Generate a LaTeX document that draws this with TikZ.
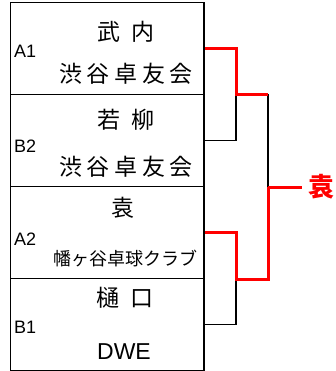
\documentclass[tikz,border=0pt]{standalone}
\usepackage{fontspec}
\setmainfont{Liberation Sans}
\newfontfamily\jp{Noto Sans CJK JP}
\newfontfamily\jpname[LetterSpace=45]{Noto Sans CJK JP}
\newfontfamily\jpclub[LetterSpace=20]{Noto Sans CJK JP}
\tikzset{
    entry/.style={draw, line width=1.6pt, minimum width=193.5pt, minimum height=92pt, inner sep=0pt},
    player/.style={inner sep=0pt, font=\fontsize{23}{23}\jpname},
    club/.style={inner sep=0pt, font=\fontsize{23}{23}\jpclub},
    seed/.style={anchor=west, inner sep=0pt, font=\fontsize{18}{18}\selectfont},
    lost/.style={line width=1.8pt},
    won/.style={red, line width=3pt},
}

\begin{document}
\begin{tikzpicture}[x=1pt,y=-1pt]
    \useasboundingbox (0,0) rectangle (336,371);
    % entries
    \node[entry] (A1) at (107.25,48.5) {};
    \node[entry] (B2) at (107.25,140.5) {};
    \node[entry] (A2) at (107.25,232.5) {};
    \node[entry] (B1) at (107.25,324.5) {};
    \node[player] (nA1) at (126,32) {武内};
    \node[club] (cA1) at (126,74) {渋谷卓友会};
    \node[seed] (sA1) at (14,51) {A1};
    \node[player] (nB2) at (126,120) {若柳};
    \node[club] (cB2) at (126,167) {渋谷卓友会};
    \node[seed] (sB2) at (14,146) {B2};
    \node[player] (nA2) at (123,208) {袁};
    \node[inner sep=0pt, font=\fontsize{18}{18}\jp] (cA2) at (125,259) {幡ヶ谷卓球クラブ};
    \node[seed] (sA2) at (14,239) {A2};
    \node[player] (nB1) at (125,298) {樋口};
    \node[inner sep=0pt, font=\fontsize{23}{23}\selectfont] (cB1) at (124,351.5) {DWE};
    \node[seed] (sB1) at (14,327.5) {B1};
    % bracket
    \coordinate (j1) at (236,94.5);
    \coordinate (j2) at (236,279);
    \coordinate (t1) at (268,94.5);
    \coordinate (t2) at (268,279);
    \coordinate (f) at (268,187);
    \node[text=red, inner xsep=6pt, inner ysep=0pt, font=\fontsize{26}{26}\jp\bfseries] (win) at (321.5,187) {袁};
    \draw[lost] (B2.east) -| (j1);
    \draw[lost] (B1.east) -| (j2);
    \draw[lost] (t1) -- (f);
    \draw[won] (A1.east) -| (j1) -- (t1);
    \draw[won] (f) -- (t2) -- (j2) |- (A2.east);
    \draw[won] (f) -- (win.west);
\end{tikzpicture}
\end{document}
